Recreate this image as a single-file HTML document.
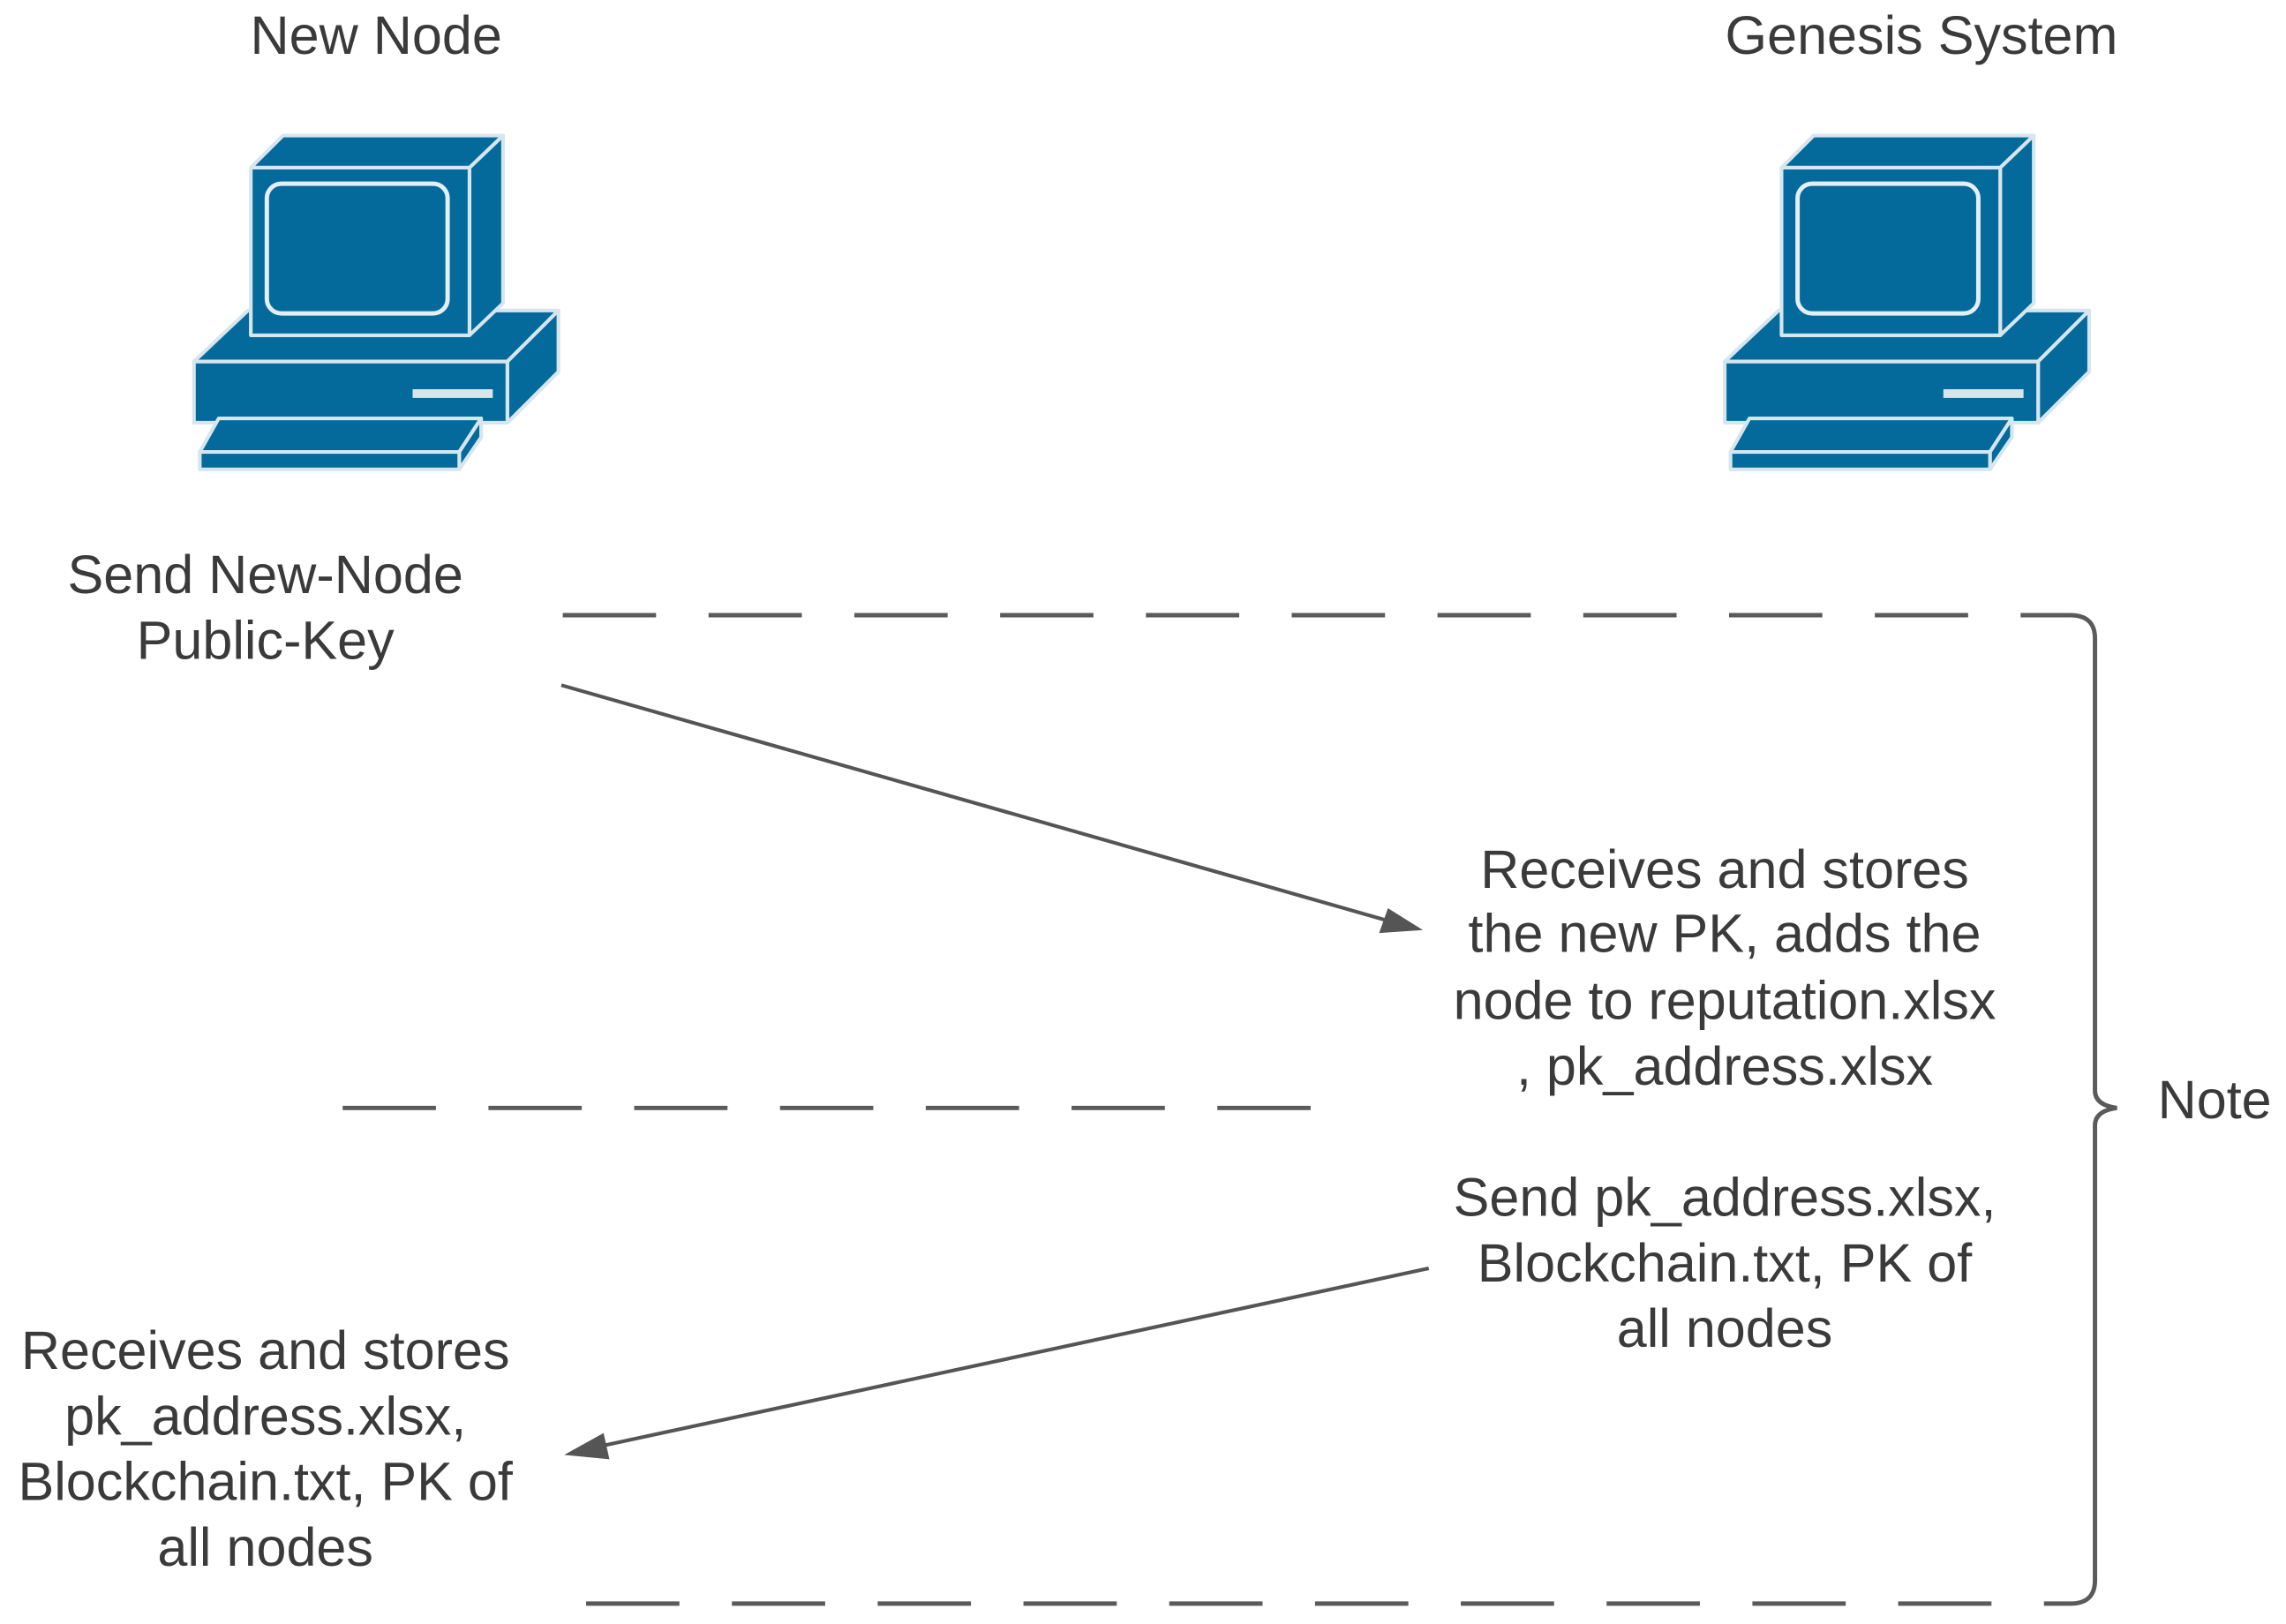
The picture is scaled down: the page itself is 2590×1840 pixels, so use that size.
<!DOCTYPE html>
<html><head><meta charset="utf-8"><style>
html,body{margin:0;padding:0;background:#fff;}
svg{display:block;}
text{font-family:"Liberation Sans",Arial,sans-serif;fill:#3a3a3a;font-size:37px;}
</style></head><body>
<svg width="2590" height="1840" viewBox="0 0 1568 1114" xmlns="http://www.w3.org/2000/svg">
<defs>
<g id="pc" stroke="#d6e6ef" stroke-width="2.5" stroke-linejoin="round">
  <polygon points="133,248 170,213 383,213 348,248" fill="#046a9c"/>
  <polygon points="348,248 383,213 383,255 348,290" fill="#046a9c"/>
  <rect x="133" y="248" width="215" height="42" fill="#046a9c"/>
  <rect x="283" y="267" width="55" height="6" fill="#d6e6ef" stroke="none"/>
  <polygon points="172,115 194,93 345,93 322,115" fill="#046a9c"/>
  <polygon points="322,115 345,93 345,208 322,230" fill="#046a9c"/>
  <rect x="172" y="115" width="150" height="115" fill="#046a9c"/>
  <rect x="183" y="126" width="124" height="89" rx="10" fill="#046a9c" stroke="#e4eff5" stroke-width="3"/>
  <polygon points="150,287 330,287 315,310 137,310" fill="#046a9c"/>
  <polygon points="315,310 330,287 330,300 315,322" fill="#046a9c"/>
  <rect x="137" y="310" width="178" height="12" fill="#046a9c"/>
</g>
</defs>

<text x="258" y="37" text-anchor="middle">New Node</text>
<text x="1318" y="37" text-anchor="middle">Genesis System</text>

<use href="#pc"/>
<use href="#pc" transform="translate(1050,0)"/>

<text x="182" y="407" text-anchor="middle">Send New-Node</text>
<text x="182" y="452" text-anchor="middle">Public-Key</text>

<g stroke="#5a5a5a" stroke-width="3" fill="none" stroke-dasharray="64,36">
  <line x1="386" y1="422" x2="1420" y2="422"/>
  <line x1="235" y1="760" x2="915" y2="760"/>
  <line x1="402" y1="1100" x2="1420" y2="1100"/>
</g>
<path d="M1420,422 Q1437,422 1437,438 L1437,748 Q1437,758 1452,760 Q1437,762 1437,772 L1437,1084 Q1437,1100 1420,1100" stroke="#5a5a5a" stroke-width="3" fill="none"/>
<text x="1480" y="767">Note</text>

<line x1="385" y1="470" x2="950" y2="631" stroke="#555" stroke-width="2.5"/>
<polygon points="976,638 946,640 952,623" fill="#555"/>

<text x="1183" y="609" text-anchor="middle">Receives and stores</text>
<text x="1183" y="653" text-anchor="middle">the new PK, adds the</text>
<text x="1183" y="699" text-anchor="middle">node to reputation.xlsx</text>
<text x="1183" y="744" text-anchor="middle">, pk_address.xlsx</text>

<text x="1183" y="834" text-anchor="middle">Send pk_address.xlsx,</text>
<text x="1183" y="879" text-anchor="middle">Blockchain.txt, PK of</text>
<text x="1183" y="924" text-anchor="middle">all nodes</text>

<line x1="980" y1="870" x2="412" y2="992" stroke="#555" stroke-width="2.5"/>
<polygon points="387,998 414,983 418,1001" fill="#555"/>

<text x="182" y="939" text-anchor="middle">Receives and stores</text>
<text x="182" y="984" text-anchor="middle">pk_address.xlsx,</text>
<text x="182" y="1029" text-anchor="middle">Blockchain.txt, PK of</text>
<text x="182" y="1074" text-anchor="middle">all nodes</text>
</svg>
</body></html>
